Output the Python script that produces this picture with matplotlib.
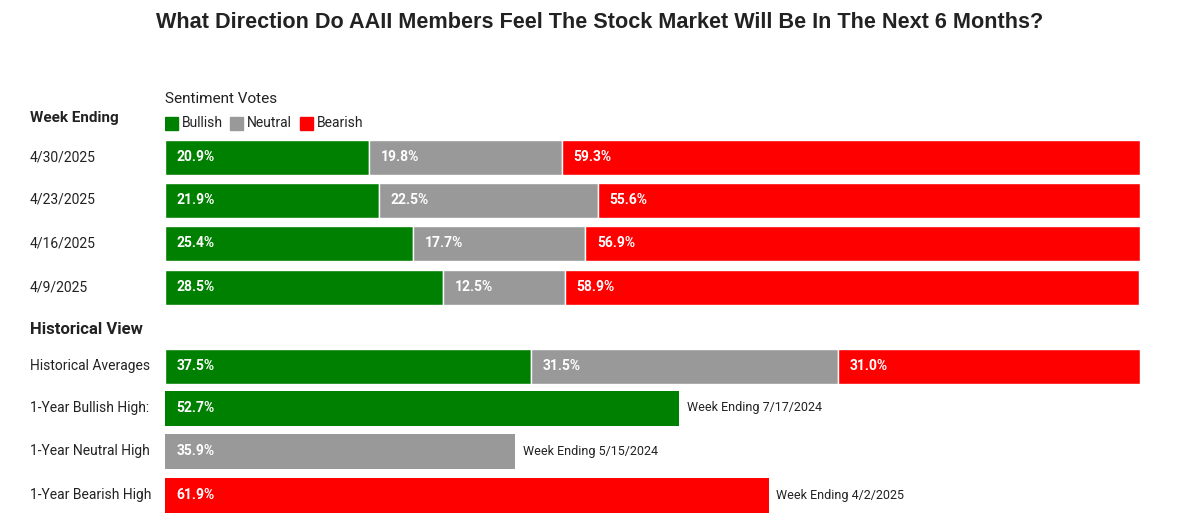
import matplotlib
matplotlib.use("Agg")
import matplotlib.pyplot as plt

plt.rcParams['font.family'] = ['Roboto', 'DejaVu Sans']
plt.rcParams['text.color'] = '#222222'

# weekly data
weeks = ['4/30/2025', '4/23/2025', '4/16/2025', '4/9/2025']
bullish = [20.9, 21.9, 25.4, 28.5]
neutral = [19.8, 22.5, 17.7, 12.5]
bearish = [59.3, 55.6, 56.9, 58.9]

# historical
hist_avg = [37.5, 31.5, 31.0]
high_labels = ['1-Year Bullish High:', '1-Year Neutral High', '1-Year Bearish High']
high_values = [52.7, 35.9, 61.9]
high_dates = ['Week Ending 7/17/2024', 'Week Ending 5/15/2024', 'Week Ending 4/2/2025']

GREEN, GREY, RED = '#008000', '#999999', '#ff0000'

fig = plt.figure(figsize=(12, 5.2), dpi=100)
ax = fig.add_axes([165 / 1200, 0, 975 / 1200, 1])
ax.set_xlim(0, 100)
ax.set_ylim(520, 0)
ax.axis('off')

px = 100 / 975  # percent per pixel
lab_x = (30 - 165) * px
h = 35

week_y = [157, 200, 243, 287]
hist_y = 366
high_y = [408, 451, 495]


def stacked(y, vals):
    left = 0
    for v, c in zip(vals, [GREEN, GREY, RED]):
        ax.barh(y, v, left=left, height=h, color=c, edgecolor='white', linewidth=1)
        ax.text(left + 1.2, y, f'{v:.1f}%', color='white', fontsize=10,
                fontweight='bold', va='center', ha='left')
        left += v


for y, w, b, n, r in zip(week_y, weeks, bullish, neutral, bearish):
    stacked(y, [b, n, r])
    ax.text(lab_x, y, w, fontsize=10, va='center', ha='left', clip_on=False)

stacked(hist_y, hist_avg)
ax.text(lab_x, hist_y, 'Historical Averages', fontsize=10, va='center', ha='left')

for y, lab, v, c, d in zip(high_y, high_labels, high_values, [GREEN, GREY, RED], high_dates):
    ax.barh(y, v, height=h, color=c)
    ax.text(1.2, y, f'{v:.1f}%', color='white', fontsize=10, fontweight='bold', va='center')
    ax.text(v + 0.8, y, d, fontsize=9, va='center')
    ax.text(lab_x, y, lab, fontsize=10, va='center', ha='left')

ax.text(lab_x, 118, 'Week Ending', fontsize=11, fontweight='bold', va='center')
ax.text(lab_x, 330, 'Historical View', fontsize=12, fontweight='bold', va='center')
ax.text(0, 99, 'Sentiment Votes', fontsize=11, va='center')

# legend
lx = 0
for name, c, step in zip(['Bullish', 'Neutral', 'Bearish'], [GREEN, GREY, RED], [65, 70, 0]):
    ax.add_patch(plt.Rectangle((lx, 117), 13 * px, 13, color=c))
    ax.text(lx + 17 * px, 123, name, fontsize=10, va='center')
    lx += step * px

fig.text(0.5, 1 - 22 / 520, 'What Direction Do AAII Members Feel The Stock Market Will Be In The Next 6 Months?',
         ha='center', va='center', fontsize=15.6, fontweight='bold', family='Liberation Sans', color='#222222')

fig.savefig('out.png', dpi=100)
